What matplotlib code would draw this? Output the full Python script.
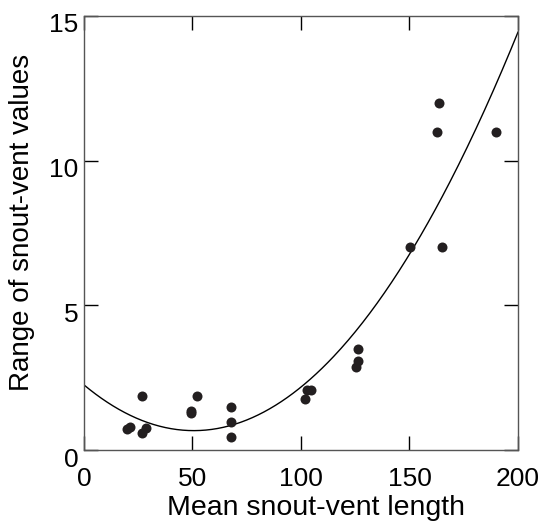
import numpy as np
import matplotlib.pyplot as plt
from matplotlib.transforms import ScaledTranslation

plt.rcParams['font.family'] = ['Liberation Sans', 'DejaVu Sans']

# data
svl_mean = [20, 21, 26.6, 26.6, 28.6, 49.2, 49.2, 52.2, 67.6, 67.6, 67.6,
            101.8, 103, 104.6, 125.3, 126.4, 126.4, 150.4, 162.8, 163.7, 165.1, 189.7]
svl_range = [0.72, 0.8, 1.88, 0.6, 0.77, 1.36, 1.27, 1.88, 1.47, 0.97, 0.46,
             1.76, 2.07, 2.07, 2.88, 3.08, 3.48, 7.0, 11.0, 12.0, 7.0, 11.0]

# fitted quadratic: y = a*(x - h)^2 + k
fit_a = 0.000617
fit_h = 50.6
fit_k = 0.67

fig = plt.figure(figsize=(5.46, 5.24), dpi=100)
ax = fig.add_axes([0.1538, 0.1412, 0.7949, 0.8283])

xx = np.linspace(0, 200, 300)
ax.plot(xx, fit_a * (xx - fit_h) ** 2 + fit_k, color='black', lw=1.0)
ax.plot(svl_mean, svl_range, 'o', color='#231f20', markersize=7.2, markeredgewidth=0)

ax.set_xlim(0, 200)
ax.set_ylim(0, 15)
ax.set_xticks([0, 50, 100, 150, 200])
ax.set_yticks([0, 5, 10, 15])
ax.tick_params(direction='in', length=10, width=1, color='black', labelsize=19,
               top=True, right=True)
ax.tick_params(axis='x', pad=12)
ax.tick_params(axis='y', pad=4)
for s in ax.spines.values():
    s.set_color('#555555')
    s.set_linewidth(1.0)

# y tick labels sit a little below their ticks in the original
shift = ScaledTranslation(0, -7 / 100, fig.dpi_scale_trans)
for lab in ax.get_yticklabels():
    lab.set_transform(lab.get_transform() + shift)

ax.set_xlabel('Mean snout-vent length', fontsize=20.5, labelpad=3)
ax.xaxis.label.set_x(0.535)
ax.set_ylabel('Range of snout-vent values', fontsize=20)
ax.yaxis.set_label_coords(-0.112, 0.525)

fig.savefig('out.png', dpi=100)
